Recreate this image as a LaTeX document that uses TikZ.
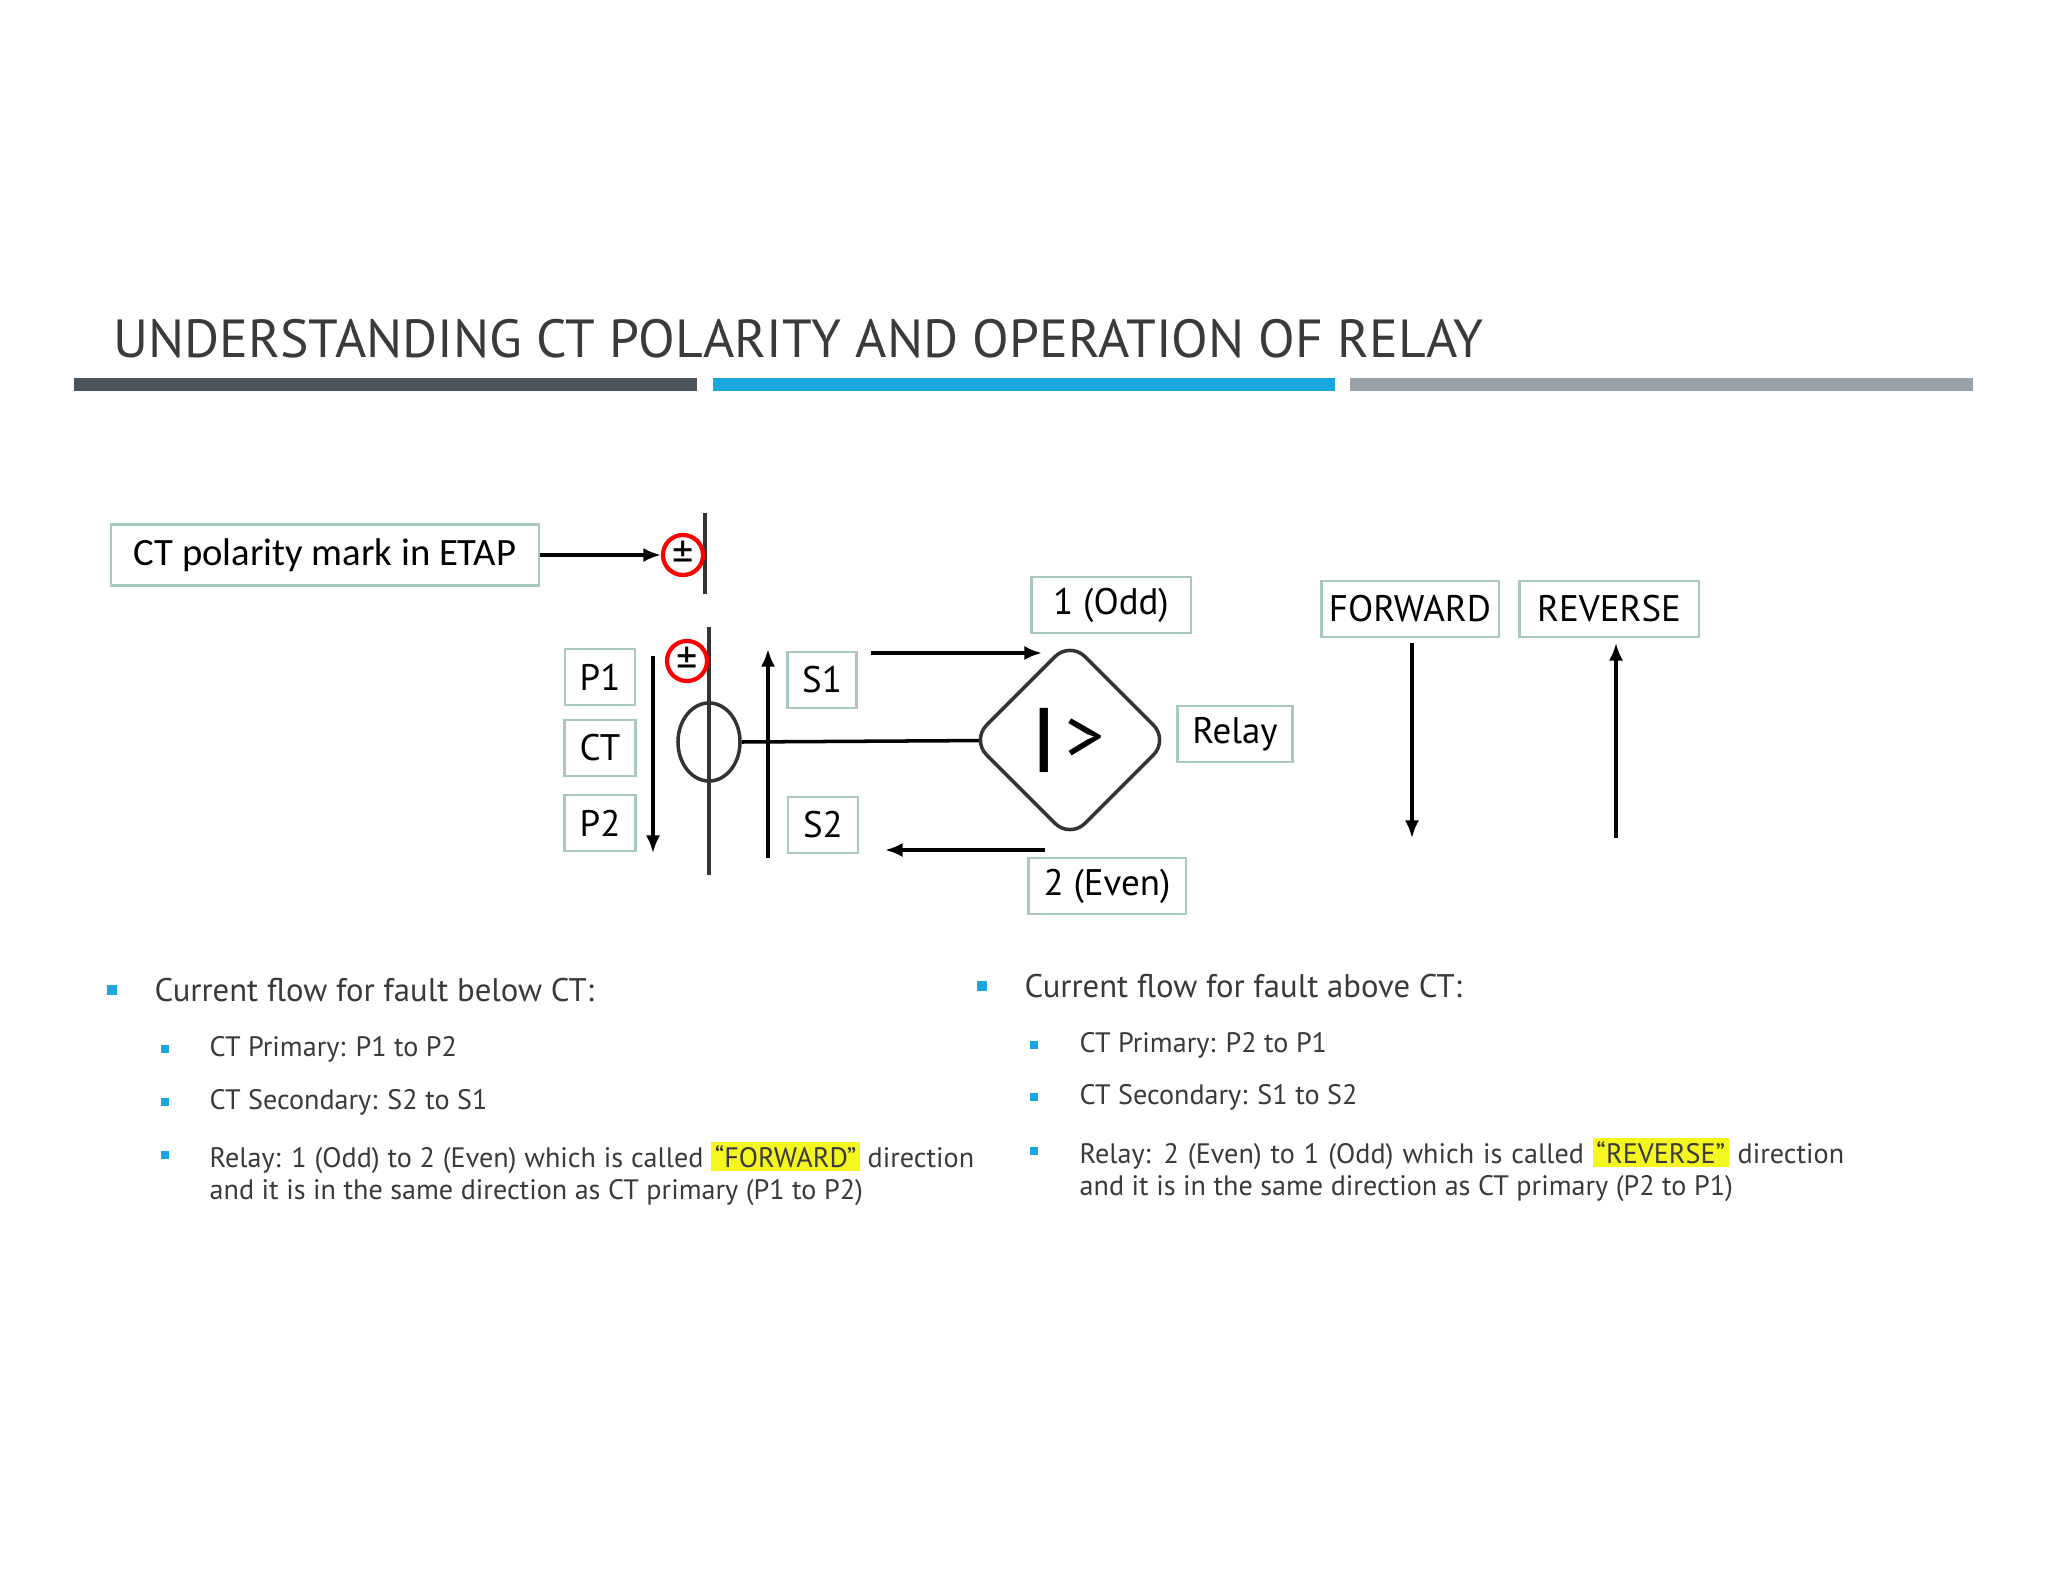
\documentclass[tikz,border=0pt]{standalone}
\usepackage{fontspec}
\setmainfont{PT Sans}
\newfontfamily\carlitofont{Carlito}
\usetikzlibrary{arrows.meta,shapes.geometric}
\definecolor{bxc}{HTML}{A8C8C0}
\definecolor{barA}{HTML}{4A545C}
\definecolor{barB}{HTML}{1AA7E0}
\definecolor{barC}{HTML}{99A2A8}
\definecolor{txt}{HTML}{3A3A3A}
\definecolor{hl}{HTML}{F5F520}
\newcommand{\hlt}[1]{{\setlength{\fboxsep}{1pt}\colorbox{hl}{#1}}}
\begin{document}
\begin{tikzpicture}[x=0.01cm,y=-0.01cm,
 lbl/.style={draw=bxc,line width=0.6pt,font=\fontsize{10.5}{12}\selectfont,inner sep=0pt,minimum height=0.56cm},
 arr/.style={-{Latex[length=5pt,width=4pt]},line width=0.9pt},
 bul/.style={fill=barB,minimum size=0.1cm,inner sep=0pt},
 mtxt/.style={anchor=west,text=txt,font=\fontsize{9.3}{11}\selectfont,inner sep=0pt},
 stxt/.style={anchor=west,text=txt,font=\fontsize{8}{10.3}\selectfont,inner sep=0pt,align=left},
 pm/.style={circle,draw=red,line width=1.2pt,minimum size=0.4cm,inner sep=0pt,font=\fontsize{12}{12}\selectfont}]
\useasboundingbox[fill=white] (0,0) rectangle (2048,1582);
% title
\node[anchor=base west,inner sep=0pt,text=txt,font=\fontsize{15.25}{18}\selectfont] (title) at (113,357) {UNDERSTANDING CT POLARITY AND OPERATION OF RELAY};
\fill[barA] (74,378) rectangle (697,391);
\fill[barB] (713,378) rectangle (1335,391);
\fill[barC] (1350,378) rectangle (1973,391);
% ETAP mark
\node[draw=bxc,line width=0.6pt,minimum width=4.27cm,minimum height=0.61cm,inner sep=0pt,font=\carlitofont\fontsize{11}{13}\selectfont] (etap) at (325,555) {CT polarity mark in ETAP};
\coordinate (vt1) at (705,513); \coordinate (vb1) at (705,594);
\draw[line width=1.2pt,black!80] (vt1) -- (vb1);
\node[pm] (pm1) at (683,555) {±};
\draw[arr] (etap.east) -- (pm1.west);
% CT
\coordinate (vt2) at (709,627); \coordinate (vb2) at (709,875);
\draw[line width=1.2pt,black!80] (vt2) -- (vb2);
\node[ellipse,draw=black!80,line width=1pt,minimum width=0.62cm,minimum height=0.78cm,inner sep=0pt] (ct) at (709,742) {};
\node[pm] (pm2) at (687,661) {±};
\coordinate (rc) at (1070,740);
\draw[line width=1pt] (ct.east) -- (rc);
\node[diamond,draw=black!80,fill=white,line width=1pt,rounded corners=6pt,minimum width=1.98cm,minimum height=1.98cm,inner sep=0pt] (relay) at (rc) {};
\node[font=\fontsize{22}{22}\selectfont,inner sep=0pt] (rsym) at (relay.center) {\textbf{|}\,>};
\coordinate (pa1) at (653,656); \coordinate (pa2) at (653,853);
\draw[arr] (pa1) -- (pa2);
\coordinate (sa1) at (768,858); \coordinate (sa2) at (768,649);
\draw[arr] (sa1) -- (sa2);
\coordinate (s1a) at (871,653); \coordinate (s1b) at (1042,653);
\draw[arr,line width=1.3pt] (s1a) -- (s1b);
\coordinate (s2a) at (1045,850); \coordinate (s2b) at (885,850);
\draw[arr,line width=1.3pt] (s2a) -- (s2b);
% labels
\node[lbl,minimum width=0.70cm] (p1) at (600,677) {P1};
\node[lbl,minimum width=0.71cm] (ctl) at (600,748) {CT};
\node[lbl,minimum width=0.71cm] (p2) at (600,823) {P2};
\node[lbl,minimum width=0.69cm] (s1) at (822,680) {S1};
\node[lbl,minimum width=0.70cm] (s2) at (823,825) {S2};
\node[lbl,minimum width=1.59cm] (odd) at (1111,605) {1 (Odd)};
\node[lbl,minimum width=1.15cm] (rl) at (1235,734) {Relay};
\node[lbl,minimum width=1.57cm] (even) at (1107,886) {2 (Even)};
\node[lbl,minimum width=1.77cm] (fw) at (1410,609) {FORWARD};
\node[lbl,minimum width=1.79cm] (rv) at (1609,609) {REVERSE};
\coordinate (f1) at (1412,643); \coordinate (f2) at (1412,838);
\draw[arr] (f1) -- (f2);
\coordinate (r1) at (1616,838); \coordinate (r2) at (1616,643);
\draw[arr] (r1) -- (r2);
% left text
\node[bul] (b1) at (112,990) {};
\node[mtxt] (t1) at (154,990) {Current flow for fault below CT:};
\node[bul,minimum size=0.08cm] (b11) at (165,1049) {};
\node[stxt] (t11) at (209,1049) {CT Primary: P1 to P2};
\node[bul,minimum size=0.08cm] (b12) at (165,1102) {};
\node[stxt] (t12) at (209,1102) {CT Secondary: S2 to S1};
\node[bul,minimum size=0.08cm] (b13) at (165,1155) {};
\node[stxt,anchor=north west] (t13) at (209,1141) {\makebox[7.64cm][s]{Relay: 1 (Odd) to 2 (Even) which is called \hlt{“FORWARD”} direction}\\[-1pt]and it is in the same direction as CT primary (P1 to P2)};
% right text
\node[bul] (b2) at (982,986) {};
\node[mtxt] (t2) at (1024,986) {Current flow for fault above CT:};
\node[bul,minimum size=0.08cm] (b21) at (1034,1045) {};
\node[stxt] (t21) at (1079,1045) {CT Primary: P2 to P1};
\node[bul,minimum size=0.08cm] (b22) at (1034,1097) {};
\node[stxt] (t22) at (1079,1097) {CT Secondary: S1 to S2};
\node[bul,minimum size=0.08cm] (b23) at (1034,1151) {};
\node[stxt,anchor=north west] (t23) at (1079,1137) {\makebox[7.64cm][s]{Relay: 2 (Even) to 1 (Odd) which is called \hlt{“REVERSE”} direction}\\[-1pt]and it is in the same direction as CT primary (P2 to P1)};
\end{tikzpicture}
\end{document}
